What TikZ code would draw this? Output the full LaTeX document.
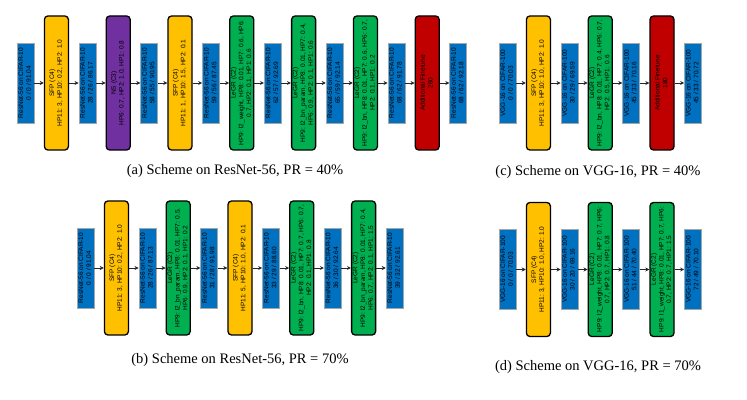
\documentclass[tikz,border=0pt]{standalone}
\usepackage{fontspec}
\setmainfont{Liberation Sans}
\newfontfamily\capfont{Liberation Serif}
\usepackage{graphicx}
\usepackage{xcolor}
\usepackage{tikz}
\usetikzlibrary{positioning,arrows.meta}
\definecolor{netblue}{HTML}{0070C0}
\definecolor{sfpyel}{HTML}{FFC000}
\definecolor{legrgrn}{HTML}{00B050}
\definecolor{nspur}{HTML}{7030A0}
\definecolor{ftred}{HTML}{C00000}
\newcommand{\boxfont}{\fontsize{6.5}{7.7}\selectfont}
\newcommand{\vt}[1]{\rotatebox{90}{\begin{tabular}{@{}c@{}}#1\end{tabular}}}
\newcommand{\rn}{ResNet-56 on CIFAR-10}
\newcommand{\vg}{VGG-16 on CIFAR-100}

\begin{document}
\begin{tikzpicture}[
  net/.style={draw=black!35, line width=0.5pt, fill=netblue, minimum width=17pt, minimum height=80pt, inner sep=0pt, font=\boxfont},
  stg/.style={draw=black, line width=1.3pt, rounded corners=3.5pt, minimum width=24pt, minimum height=134pt, inner sep=0pt, font=\boxfont},
  arr/.style={-{Stealth[length=4pt,width=4pt]}, line width=0.7pt, black!85},
  subcap/.style={font=\capfont\fontsize{14.5}{17}\selectfont}
]
\useasboundingbox (0,0) rectangle (747pt,399pt);
% (a) ResNet-56, PR = 40%
\node[net] (a0) at (25.5pt,316pt) {\vt{\rn\\0 / 0 / 91.04}};
\node[stg, fill=sfpyel, right=9.5pt of a0] (a1s) {\vt{SFP (C4)\\HP11: 3, HP10: 0.2, HP2: 1.0}};
\node[net, right=9.5pt of a1s] (a1) {\vt{\rn\\28 / 26 / 86.17}};
\node[stg, fill=nspur, right=9.5pt of a1] (a2s) {\vt{NS (C3)\\HP6: 0.7, HP2: 1.0, HP1: 0.8}};
\node[net, right=9.5pt of a2s] (a2) {\vt{\rn\\58 / 55 / 90.95}};
\node[stg, fill=sfpyel, right=9.5pt of a2] (a3s) {\vt{SFP (C4)\\HP11: 1, HP10: 1.5, HP2: 0.1}};
\node[net, right=9.5pt of a3s] (a3) {\vt{\rn\\59 / 56 / 87.45}};
\node[stg, fill=legrgrn, right=9.5pt of a3] (a4s) {\vt{LeGR (C2)\\HP9: l2\_weight, HP8: 0.01, HP7: 0.6, HP6:\\0.7, HP2: 0.1, HP1: 0.6}};
\node[net, right=9.5pt of a4s] (a4) {\vt{\rn\\62 / 57 / 92.69}};
\node[stg, fill=legrgrn, right=9.5pt of a4] (a5s) {\vt{LeGR (C2)\\HP9: l2\_bn\_param, HP8: 0.01, HP7: 0.4,\\HP6: 0.9, HP2: 0.1, HP1: 0.6}};
\node[net, right=9.5pt of a5s] (a5) {\vt{\rn\\65 / 59 / 92.14}};
\node[stg, fill=legrgrn, right=9.5pt of a5] (a6s) {\vt{LeGR (C2)\\HP9: l2\_bn, HP8: 0.01, HP7: 0.6, HP6: 0.7,\\HP2: 0.1, HP1: 0.2}};
\node[net, right=9.5pt of a6s] (a6) {\vt{\rn\\68 / 62 / 91.78}};
\node[stg, fill=ftred, right=9.5pt of a6] (a7s) {\vt{Additional Finetune\\260}};
\node[net, right=9.5pt of a7s] (a7) {\vt{\rn\\68 / 62 / 92.18}};
\draw[arr] (a0) -- (a1s); \draw[arr] (a1s) -- (a1); \draw[arr] (a1) -- (a2s); \draw[arr] (a2s) -- (a2);
\draw[arr] (a2) -- (a3s); \draw[arr] (a3s) -- (a3); \draw[arr] (a3) -- (a4s); \draw[arr] (a4s) -- (a4);
\draw[arr] (a4) -- (a5s); \draw[arr] (a5s) -- (a5); \draw[arr] (a5) -- (a6s); \draw[arr] (a6s) -- (a6);
\draw[arr] (a6) -- (a7s); \draw[arr] (a7s) -- (a7);
\node[subcap] (capa) at (235pt,228pt) {(a) Scheme on ResNet-56, PR = 40\%};
% (b) ResNet-56, PR = 70%
\node[net] (b0) at (85.5pt,131pt) {\vt{\rn\\0 / 0 / 91.04}};
\node[stg, fill=sfpyel, right=9.5pt of b0] (b1s) {\vt{SFP (C4)\\HP11: 3, HP10: 0.2, HP2: 1.0}};
\node[net, right=9.5pt of b1s] (b1) {\vt{\rn\\28 / 26 / 87.13}};
\node[stg, fill=legrgrn, right=9.5pt of b1] (b2s) {\vt{LeGR (C2)\\HP9: l2\_bn\_param, HP8: 0.01, HP7: 0.5,\\HP6: 0.9, HP2: 0.1, HP1: 0.2}};
\node[net, right=9.5pt of b2s] (b2) {\vt{\rn\\31 / 28 / 91.98}};
\node[stg, fill=sfpyel, right=9.5pt of b2] (b3s) {\vt{SFP (C4)\\HP11: 5, HP10: 1.0, HP2: 0.1}};
\node[net, right=9.5pt of b3s] (b3) {\vt{\rn\\33 / 29 / 88.60}};
\node[stg, fill=legrgrn, right=9.5pt of b3] (b4s) {\vt{LeGR (C2)\\HP9: l2\_bn, HP8: 0.01, HP7: 0.7, HP6: 0.7,\\HP2: 0.1, HP1: 0.8}};
\node[net, right=9.5pt of b4s] (b4) {\vt{\rn\\36 / 30 / 92.64}};
\node[stg, fill=legrgrn, right=9.5pt of b4] (b5s) {\vt{LeGR (C2)\\HP9: l2\_bn\_param, HP8: 0.01, HP7: 0.4,\\HP6: 0.7, HP2: 0.1, HP1: 1.5}};
\node[net, right=9.5pt of b5s] (b5) {\vt{\rn\\39 / 32 / 92.61}};
\draw[arr] (b0) -- (b1s); \draw[arr] (b1s) -- (b1); \draw[arr] (b1) -- (b2s); \draw[arr] (b2s) -- (b2);
\draw[arr] (b2) -- (b3s); \draw[arr] (b3s) -- (b3); \draw[arr] (b3) -- (b4s); \draw[arr] (b4s) -- (b4);
\draw[arr] (b4) -- (b5s); \draw[arr] (b5s) -- (b5);
\node[subcap] (capb) at (240pt,39pt) {(b) Scheme on ResNet-56, PR = 70\%};
% (c) VGG-16, PR = 40%
\node[net] (c0) at (507.5pt,316pt) {\vt{\vg\\0 / 0 / 70.03}};
\node[stg, fill=sfpyel, right=9.5pt of c0] (c1s) {\vt{SFP (C4)\\HP11: 3, HP10: 1.0, HP2: 1.0}};
\node[net, right=9.5pt of c1s] (c1) {\vt{\vg\\30 / 29 / 69.59}};
\node[stg, fill=legrgrn, right=9.5pt of c1] (c2s) {\vt{LeGR (C2)\\HP9: l2\_bn, HP8: 0.01, HP7: 0.4, HP6: 0.7,\\HP2: 0.5, HP1: 0.6}};
\node[net, right=9.5pt of c2s] (c2) {\vt{\vg\\45 / 33 / 70.16}};
\node[stg, fill=ftred, right=9.5pt of c2] (c3s) {\vt{Additional Finetune\\180}};
\node[net, right=9.5pt of c3s] (c3) {\vt{\vg\\45 / 33 / 70.72}};
\draw[arr] (c0) -- (c1s); \draw[arr] (c1s) -- (c1); \draw[arr] (c1) -- (c2s); \draw[arr] (c2s) -- (c2);
\draw[arr] (c2) -- (c3s); \draw[arr] (c3s) -- (c3);
\node[subcap] (capc) at (598pt,227pt) {(c) Scheme on VGG-16, PR = 40\%};
% (d) VGG-16, PR = 70%
\node[net] (d0) at (507.5pt,129.5pt) {\vt{\vg\\0 / 0 / 70.03}};
\node[stg, fill=sfpyel, right=9.5pt of d0] (d1s) {\vt{SFP (C4)\\HP11: 3, HP10: 1.0, HP2: 1.0}};
\node[net, right=9.5pt of d1s] (d1) {\vt{\vg\\30 / 20 / 69.16}};
\node[stg, fill=legrgrn, right=9.5pt of d1] (d2s) {\vt{LeGR (C2)\\HP9: l2\_weight, HP8: 0.01, HP7: 0.7, HP6:\\0.7, HP2: 0.7, HP1: 0.8}};
\node[net, right=9.5pt of d2s] (d2) {\vt{\vg\\51 / 44 / 70.40}};
\node[stg, fill=legrgrn, right=9.5pt of d2] (d3s) {\vt{LeGR (C2)\\HP9: l1\_weight, HP8: 0.01, HP7: 0.7, HP6:\\0.7, HP2: 0.7, HP1: 1.5}};
\node[net, right=9.5pt of d3s] (d3) {\vt{\vg\\72 / 49 / 70.10}};
\draw[arr] (d0) -- (d1s); \draw[arr] (d1s) -- (d1); \draw[arr] (d1) -- (d2s); \draw[arr] (d2s) -- (d2);
\draw[arr] (d2) -- (d3s); \draw[arr] (d3s) -- (d3);
\node[subcap] (capd) at (598pt,32pt) {(d) Scheme on VGG-16, PR = 70\%};
\end{tikzpicture}
\end{document}
